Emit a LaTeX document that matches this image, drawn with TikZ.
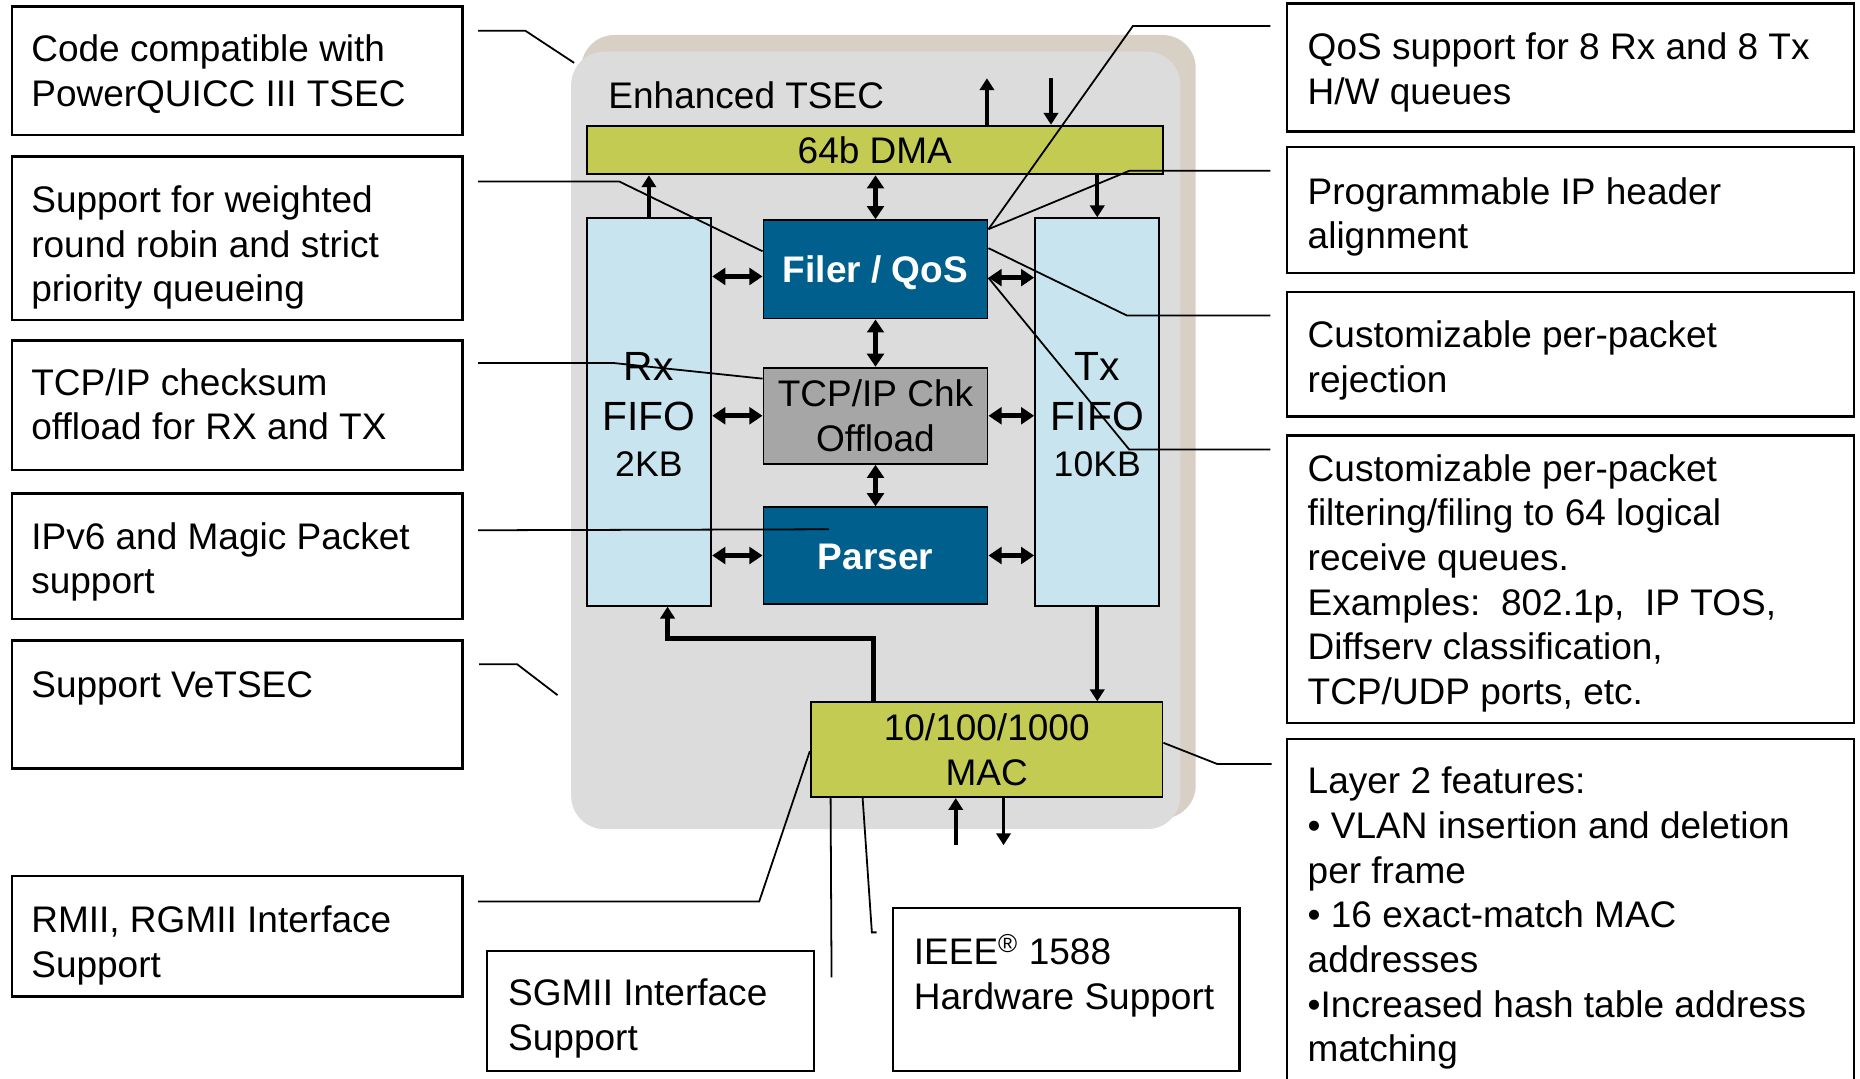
\documentclass[tikz,border=0pt]{standalone}
\usepackage{fontspec}
\setmainfont{Liberation Sans}
\usetikzlibrary{arrows.meta,calc,fit}
\definecolor{tsOlive}{HTML}{C3CB52}
\definecolor{tsLBlue}{HTML}{C7E4EF}
\definecolor{tsDBlue}{HTML}{005F8C}
\definecolor{tsGBox}{HTML}{A6A6A6}
\definecolor{tsGrey}{HTML}{DCDCDC}
\definecolor{tsBeige}{HTML}{D8D0C5}
\newcommand\fTxt{\fontsize{15.6}{18.85}\selectfont}
\newcommand\fBig{\fontsize{17.2}{20}\selectfont}
\newcommand\fKB{\fontsize{15}{18}\selectfont}
\newcommand\Lns[1]{\vtop{\baselineskip=18.85pt\lineskip=0pt\lineskiplimit=-20pt #1}}
\begin{document}
\begin{tikzpicture}[x=0.5pt,y=-0.5pt,
  cbox/.style={draw=black, line width=1pt, inner sep=0pt},
  blk/.style={draw=black, line width=0.8pt, inner sep=0pt},
  ctext/.style={anchor=base west, inner sep=0pt, font=\fTxt},
  ftext/.style={anchor=base, inner sep=0pt},
  cl/.style={line width=0.75pt},
  sarr/.style={line width=1.6pt, -{Triangle[width=6pt,length=5pt]}},
  darr/.style={line width=2pt, {Triangle[width=7pt,length=5.5pt]}-{Triangle[width=7pt,length=5.5pt]}},
  thk/.style={line width=2.3pt, -{Triangle[width=6pt,length=5pt]}}]
\useasboundingbox (0,0) rectangle (1568,908.8);
\fill[white] (0,0) rectangle (1568,908.8);
\clip (0,0) rectangle (1568,908.8);

% background
\node[fit={(490,29.5)(1008,690)}, fill=tsBeige, rounded corners=14pt, inner sep=0pt] (shadow) {};
\node[fit={(481.5,43.6)(995,699)}, fill=tsGrey, rounded corners=14pt, inner sep=0pt] (bg) {};
\node[ctext] (title) at (512.5,91.3) {Enhanced TSEC};

% blocks
\node[blk, fill=tsOlive, fit={(494.5,106)(980.6,147)}] (dma) {};
\node[blk, fill=tsLBlue, fit={(494.5,184)(599.6,510.6)}] (rx) {};
\node[blk, fill=tsLBlue, fit={(872.6,184)(977.4,510.6)}] (tx) {};
\node[blk, fill=tsDBlue, fit={(643.6,185.6)(832.5,268.5)}] (filer) {};
\node[blk, fill=tsGBox, fit={(643.6,310)(832.5,391)}] (tcp) {};
\node[blk, fill=tsDBlue, fit={(643.6,427.6)(832.5,509)}] (parser) {};
\node[blk, fill=tsOlive, fit={(683.5,592)(980,672)}] (mac) {};

\node[ftext, font=\fTxt] (dmal) at (737.5,137.7) {64b DMA};
\node[ftext, font=\fTxt\bfseries, text=white] (filerl) at (738,238.3) {Filer / QoS};
\node[ftext, font=\fTxt] (tcpl1) at (738,343) {TCP/IP Chk};
\node[ftext, font=\fTxt] (tcpl2) at (738,380.8) {Offload};
\node[ftext, font=\fTxt\bfseries, text=white] (parserl) at (738,479.8) {Parser};
\node[ftext, font=\fTxt] (macl1) at (831.8,624.4) {10/100/1000};
\node[ftext, font=\fTxt] (macl2) at (831.8,661.8) {MAC};

\node[ftext, font=\fBig] (rx1) at (547,320.4) {Rx};
\node[ftext, font=\fBig] (rx2) at (547,362.5) {FIFO};
\node[ftext, font=\fKB] (rx3) at (547,402) {2KB};
\node[ftext, font=\fBig] (tx1) at (925,320.4) {Tx};
\node[ftext, font=\fBig] (tx2) at (925,362.5) {FIFO};
\node[ftext, font=\fKB] (tx3) at (925,402) {10KB};

% arrows
\draw[sarr] (rx.north) -- (rx.north |- dma.south);
\draw[darr] (filer.north) -- (filer.north |- dma.south);
\draw[sarr] (tx.north |- dma.south) -- (tx.north);
\coordinate (fl) at ($(filer.west)+(0,6)$);
\coordinate (fr) at ($(filer.east)+(0,7)$);
\draw[darr] (rx.east |- fl) -- (fl);
\draw[darr] (fr) -- (tx.west |- fr);
\draw[darr] (filer.south) -- (tcp.north);
\draw[darr] (rx.east |- tcp.west) -- (tcp.west);
\draw[darr] (tcp.east) -- (tx.west |- tcp.east);
\draw[darr] (tcp.south) -- (parser.north);
\draw[darr] (rx.east |- parser.west) -- (parser.west);
\draw[darr] (parser.east) -- (tx.west |- parser.east);
\draw[thk] ($(mac.north west)+(53.5,0)$) |- ($(rx.south)+(15.7,27)$) -- ($(rx.south)+(15.7,0)$);
\draw[sarr] (tx.south) -- (tx.south |- mac.north);
\coordinate (dmaU) at (832,66);
\coordinate (dmaD) at (886,66);
\draw[sarr] (dmaU |- dma.north) -- (dmaU);
\draw[sarr] (dmaD) -- (dmaD |- dma.north);
\coordinate (macU) at (805.7,712.5);
\coordinate (macD) at (846,712.5);
\draw[sarr] (macU) -- (macU |- mac.south);
\draw[sarr] (macD |- mac.south) -- (macD);

% callout boxes
\node[cbox, fit={(10,5.6)(390,114)}] (b1) {};
\node[ctext] (t1) at (26,52) {\Lns{\hbox{Code compatible with}\hbox{PowerQUICC III TSEC}}};
\node[cbox, fit={(10,132)(390,270)}] (b2) {};
\node[ctext] (t2) at (26,179) {\Lns{\hbox{Support for weighted}\hbox{round robin and strict}\hbox{priority queueing}}};
\node[cbox, fit={(10,287)(390,396)}] (b3) {};
\node[ctext] (t3) at (26,333) {\Lns{\hbox{TCP/IP checksum}\hbox{offload for RX and TX}}};
\node[cbox, fit={(10,416)(390,522)}] (b4) {};
\node[ctext] (t4) at (26,463) {\Lns{\hbox{IPv6 and Magic Packet}\hbox{support}}};
\node[cbox, fit={(10,540)(390,648)}] (b5) {};
\node[ctext] (t5) at (26,588) {Support VeTSEC};
\node[cbox, fit={(10,738.5)(390,840)}] (b6) {};
\node[ctext] (t6) at (26,786) {\Lns{\hbox{RMII, RGMII Interface}\hbox{Support}}};
\node[cbox, fit={(410.5,801.5)(686,903)}] (b7) {};
\node[ctext] (t7) at (428,848) {\Lns{\hbox{SGMII Interface}\hbox{Support}}};
\node[cbox, fit={(753,765.5)(1045,903)}] (b8) {};
\node[ctext] (t8) at (770,813) {\Lns{\hbox{IEEE\textsuperscript{®} 1588}\hbox{Hardware Support}}};
\node[cbox, fit={(1085,2.8)(1563,111)}] (r1) {};
\node[ctext] (s1) at (1102,50) {\Lns{\hbox{QoS support for 8 Rx and 8 Tx}\hbox{H/W queues}}};
\node[cbox, fit={(1085,124)(1563,230)}] (r2) {};
\node[ctext] (s2) at (1102,172) {\Lns{\hbox{Programmable IP header}\hbox{alignment}}};
\node[cbox, fit={(1085,246)(1563,351)}] (r3) {};
\node[ctext] (s3) at (1102,293) {\Lns{\hbox{Customizable per-packet}\hbox{rejection}}};
\node[cbox, fit={(1085,367)(1563,609.6)}] (r4) {};
\node[ctext] (s4) at (1102,405.5) {\Lns{\hbox{Customizable per-packet}\hbox{filtering/filing to 64 logical}\hbox{receive queues.}\hbox{Examples:\ \ 802.1p,\ \ IP TOS,}\hbox{Diffserv classification,}\hbox{TCP/UDP ports, etc.}}};
\node[cbox, fit={(1085,623)(1563,960)}] (r5) {};
\node[ctext] (s5) at (1102,669) {\Lns{\hbox{Layer 2 features:}\hbox{• VLAN insertion and deletion}\hbox{per frame}\hbox{• 16 exact-match MAC}\hbox{addresses}\hbox{•Increased hash table address}\hbox{matching}}};

% callout lines
\coordinate (c1s) at (403,26);   \coordinate (c1e) at (484,53);
\draw[cl] (c1s) -- (443,26) -- (c1e);
\coordinate (c2s) at (403,153);
\draw[cl] (c2s) -- (522,153) -- ($(filer.north west)+(0,27)$);
\coordinate (c3s) at (403,306);
\draw[cl] (c3s) -- (517,306) -- ($(tcp.north west)+(0,10)$);
\coordinate (c4s) at (403,447);
\draw[cl] (c4s) -- ($(parser.north west)+(56,19.4)$);
\coordinate (c5s) at (404,560);  \coordinate (c5e) at (470,586);
\draw[cl] (c5s) -- (436,560) -- (c5e);
\coordinate (c6s) at (403,760);
\draw[cl] (c6s) -- (640,760) -- ($(mac.north west)+(0,42)$);
\coordinate (c7e) at (701,824);
\draw[cl] ($(mac.south west)+(17.5,0)$) -- (c7e);
\coordinate (c8e) at (739,786);
\draw[cl] ($(mac.south west)+(44.5,0)$) -- (735,786) -- (c8e);
\coordinate (c9e) at (1072,644);
\draw[cl] ($(mac.north east)+(0,35)$) -- (1026,644) -- (c9e);
\coordinate (d1s) at (1071,22);
\draw[cl] (d1s) -- (955,22) -- ($(filer.north east)+(0,8.4)$);
\coordinate (d2s) at (1071,144);
\draw[cl] (d2s) -- (952,144) -- ($(filer.north east)+(0,8.4)$);
\coordinate (d3s) at (1071,266);
\draw[cl] (d3s) -- (950,266) -- ($(filer.north east)+(0,24.4)$);
\coordinate (d4s) at (1071,379);
\draw[cl] (d4s) -- (952,379) -- ($(filer.north east)+(0,49.4)$);
\end{tikzpicture}
\end{document}
